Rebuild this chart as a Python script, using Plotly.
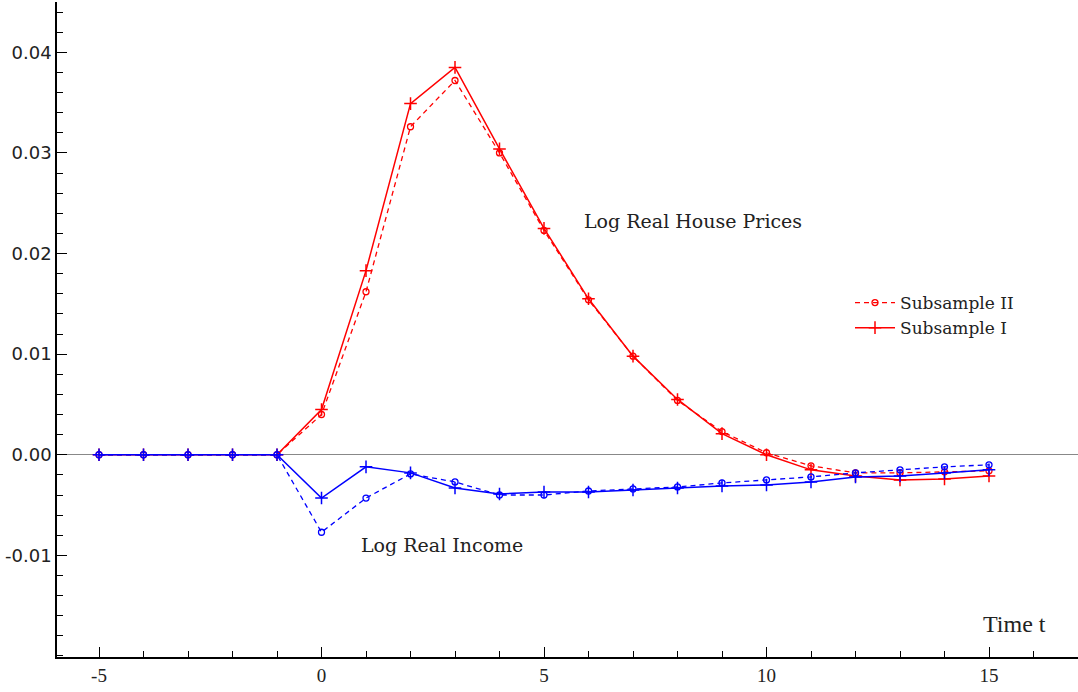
import plotly.graph_objects as go

t = list(range(-5, 16))

# Log real house prices
house_I = [0, 0, 0, 0, 0, 0.0045, 0.0183, 0.0349, 0.0385, 0.0304, 0.0225, 0.0155,
           0.0098, 0.0055, 0.0021, 0.0000, -0.0015, -0.0021, -0.0025, -0.0024, -0.0021]
house_II = [0, 0, 0, 0, 0, 0.0040, 0.0162, 0.0326, 0.0372, 0.0300, 0.0223, 0.0154,
            0.0098, 0.0054, 0.0023, 0.0002, -0.0011, -0.0018, -0.0018, -0.0017, -0.0016]

# Log real income
income_I = [0, 0, 0, 0, 0, -0.0043, -0.0012, -0.0018, -0.0033, -0.0039, -0.0037, -0.0037,
            -0.0035, -0.0033, -0.0031, -0.0030, -0.0027, -0.0022, -0.0021, -0.0018, -0.0015]
income_II = [0, 0, 0, 0, 0, -0.0077, -0.0043, -0.0019, -0.0027, -0.0040, -0.0040, -0.0036,
             -0.0034, -0.0032, -0.0028, -0.0025, -0.0022, -0.0018, -0.0015, -0.0012, -0.0010]

x_tickvals = [-5, 0, 5, 10, 15]
x_ticktext = ["-5", "0", "5", "10", "15"]
y_tickvals = [-0.01, 0.0, 0.01, 0.02, 0.03, 0.04]
y_ticktext = ["-0.01", "0.00", "0.01", "0.02", "0.03", "0.04"]

RED = "#ff0000"
BLUE = "#0000ff"

fig = go.Figure()

def add(y, color, dash, name, show):
    if dash:
        fig.add_trace(go.Scatter(x=t, y=y, mode="lines+markers", name=name, showlegend=show,
                                 line=dict(color=color, width=1.3, dash="5px,4px"),
                                 marker=dict(symbol="circle-open", size=6, color=color,
                                             line=dict(width=1.3, color=color))))
    else:
        fig.add_trace(go.Scatter(x=t, y=y, mode="lines+markers", name=name, showlegend=show,
                                 line=dict(color=color, width=1.5),
                                 marker=dict(symbol="cross-thin-open", size=9, color=color,
                                             line=dict(width=1.5, color=color))))

add(house_II, RED, True, "Subsample II", True)
add(house_I, RED, False, "Subsample I", True)
add(income_II, BLUE, True, "Subsample II", False)
add(income_I, BLUE, False, "Subsample I", False)

serif = "DejaVu Serif"
PW, PH, L, T = 1021, 655, 57, 2

def px(xp, yp):
    return (xp - L) / PW, 1 - (yp - T) / PH

ax, ay = px(693, 221)
fig.add_annotation(x=ax, y=ay, xref="paper", yref="paper", xanchor="center", yanchor="middle",
                   text="Log Real House Prices", showarrow=False,
                   font=dict(family=serif, size=19, color="#222"))
ax, ay = px(442, 545)
fig.add_annotation(x=ax, y=ay, xref="paper", yref="paper", xanchor="center", yanchor="middle",
                   text="Log Real Income", showarrow=False,
                   font=dict(family=serif, size=19, color="#222"))
ax, ay = px(1014, 624)
fig.add_annotation(x=ax, y=ay, xref="paper", yref="paper", xanchor="center", yanchor="middle",
                   text="Time t", showarrow=False,
                   font=dict(family="Liberation Serif", size=24, color="#222"))

lx, ly = px(850, 285)
fig.update_layout(
    width=1078, height=692,
    margin=dict(l=L, r=0, t=T, b=35, autoexpand=False),
    paper_bgcolor="white", plot_bgcolor="white",
    showlegend=True,
    legend=dict(x=lx, y=ly, xanchor="left", yanchor="top",
                bgcolor="rgba(0,0,0,0)", font=dict(family=serif, size=17, color="#222"),
                tracegroupgap=0, itemwidth=40),
)
fig.update_xaxes(range=[-5.944, 17.0], showgrid=False, zeroline=False, automargin=False,
                 showline=True, linecolor="black", linewidth=1.5,
                 tickmode="array", tickvals=x_tickvals, ticktext=x_ticktext,
                 ticks="inside", ticklen=10, tickcolor="black", tickwidth=1.3,
                 minor=dict(dtick=1, tick0=0, ticks="inside", ticklen=6, tickcolor="black", tickwidth=1.3),
                 tickfont=dict(family="Liberation Serif", size=19, color="#222"))
fig.update_yaxes(range=[-0.0201, 0.0450], showgrid=False, automargin=False,
                 zeroline=True, zerolinecolor="#888888", zerolinewidth=1.2,
                 showline=True, linecolor="black", linewidth=1.5,
                 tickmode="array", tickvals=y_tickvals, ticktext=y_ticktext,
                 ticks="inside", ticklen=10, tickcolor="black", tickwidth=1.3,
                 minor=dict(dtick=0.002, tick0=0, ticks="inside", ticklen=6, tickcolor="black", tickwidth=1.3),
                 tickfont=dict(family="DejaVu Sans", size=18, color="#222"))

fig.write_html("out.html", config={"displayModeBar": False},
               post_script="document.body.style.margin='0';")
